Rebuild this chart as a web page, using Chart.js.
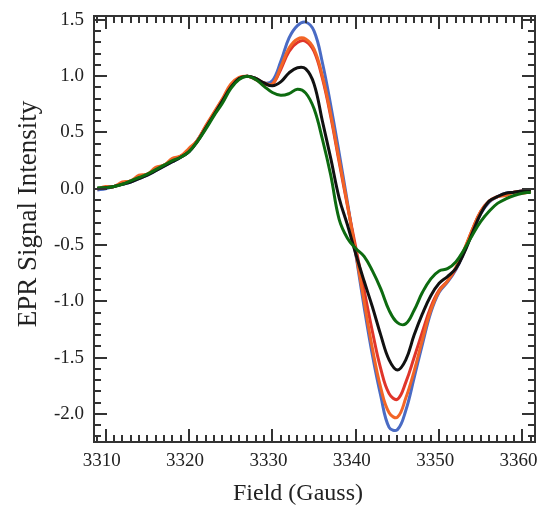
<!DOCTYPE html>
<html>
<head>
<meta charset="utf-8">
<script src="https://cdn.jsdelivr.net/npm/chart.js@4/dist/chart.umd.min.js"></script>
<style>
  html, body { margin: 0; padding: 0; background: #fff; }
  canvas { display: block; }
</style>
</head>
<body>
<canvas id="eprChart" width="539" height="507"></canvas>
<script>
// Field values (Gauss), one reading per gauss
const fieldG = [];
for (let g = 3309; g <= 3361; g++) fieldG.push(g);

// Tick labels
const xTicks = [3310, 3320, 3330, 3340, 3350, 3360];
const yTicks = [-2.0, -1.5, -1.0, -0.5, 0.0, 0.5, 1.0, 1.5];

// EPR spectra
const blueSeries = [
  -0.01, 0.00, 0.02, 0.04, 0.06, 0.09, 0.12, 0.16, 0.20, 0.24, 0.28, 0.33, 0.43, 0.55, 0.67, 0.79, 0.91, 0.98, 1.00,
  0.98, 0.94, 0.96, 1.13, 1.34, 1.45, 1.48, 1.40, 1.12, 0.74, 0.32, -0.12, -0.58, -1.05, -1.48, -1.84, -2.12, -2.14,
  -1.97, -1.68, -1.38, -1.10, -0.92, -0.83, -0.72, -0.56, -0.38, -0.22, -0.12, -0.07, -0.04, -0.03, -0.02, -0.02
];
const redSeries = [
  0.00, 0.01, 0.02, 0.05, 0.07, 0.10, 0.13, 0.17, 0.21, 0.25, 0.29, 0.34, 0.43, 0.55, 0.67, 0.79, 0.91, 0.98, 1.00,
  0.97, 0.93, 0.93, 1.06, 1.22, 1.30, 1.31, 1.22, 0.98, 0.64, 0.24, -0.15, -0.52, -0.90, -1.27, -1.60, -1.82, -1.87,
  -1.72, -1.50, -1.27, -1.05, -0.90, -0.82, -0.71, -0.55, -0.36, -0.20, -0.11, -0.07, -0.05, -0.03, -0.02, -0.02
];
const orangeSeries = [
  0.00, 0.02, 0.02, 0.06, 0.07, 0.12, 0.13, 0.19, 0.21, 0.27, 0.29, 0.36, 0.43, 0.56, 0.68, 0.80, 0.93, 0.99, 1.00,
  0.98, 0.94, 0.93, 1.08, 1.25, 1.33, 1.33, 1.24, 1.00, 0.66, 0.26, -0.14, -0.57, -1.00, -1.42, -1.77, -1.99, -2.03,
  -1.86, -1.62, -1.34, -1.08, -0.91, -0.82, -0.70, -0.54, -0.36, -0.20, -0.11, -0.07, -0.06, -0.03, -0.04, -0.02
];
const blackSeries = [
  0.00, 0.01, 0.02, 0.04, 0.06, 0.09, 0.12, 0.16, 0.20, 0.24, 0.28, 0.33, 0.42, 0.54, 0.66, 0.78, 0.90, 0.98, 1.00,
  0.98, 0.94, 0.915, 0.95, 1.03, 1.075, 1.065, 0.93, 0.60, 0.27, -0.08, -0.32, -0.58, -0.82, -1.05, -1.30, -1.52, -1.61,
  -1.52, -1.30, -1.11, -0.95, -0.84, -0.78, -0.71, -0.57, -0.39, -0.22, -0.11, -0.07, -0.04, -0.03, -0.02, -0.01
];
const greenSeries = [
  0.01, 0.01, 0.02, 0.04, 0.07, 0.10, 0.13, 0.17, 0.21, 0.25, 0.28, 0.33, 0.42, 0.53, 0.65, 0.76, 0.89, 0.97, 1.00,
  0.97, 0.91, 0.855, 0.83, 0.845, 0.885, 0.85, 0.71, 0.44, 0.12, -0.27, -0.44, -0.53, -0.60, -0.73, -0.89, -1.08, -1.19,
  -1.20, -1.08, -0.92, -0.80, -0.73, -0.71, -0.65, -0.54, -0.41, -0.29, -0.20, -0.13, -0.09, -0.06, -0.04, -0.03
];

const toPoints = (vals) => vals.map((v, i) => ({ x: fieldG[i], y: v }));

function makeLine(vals, color) {
  return {
    data: toPoints(vals),
    borderColor: color,
    borderWidth: 3,
    pointRadius: 0,
    tension: 0.4,
    fill: false
  };
}

const serif = '"Liberation Serif", "Times New Roman", serif';

// Frame with inward ticks on all four sides, plus both axis titles
// (titles sit a bit off the plot centre in the original, so draw them here)
const frameTicks = {
  id: 'frameTicks',
  afterDraw(chart) {
    const { ctx, chartArea: a, scales: { x, y } } = chart;
    ctx.save();
    ctx.strokeStyle = '#333';
    ctx.lineWidth = 2;
    ctx.strokeRect(a.left, a.top, a.right - a.left, a.bottom - a.top);
    ctx.beginPath();
    for (let g = 3309; g <= 3361; g++) {
      const px = Math.round(x.getPixelForValue(g));
      const len = g % 10 === 0 ? 13 : 7;
      ctx.moveTo(px, a.bottom); ctx.lineTo(px, a.bottom - len);
      ctx.moveTo(px, a.top); ctx.lineTo(px, a.top + len);
    }
    for (let k = -22; k <= 15; k++) {
      const py = Math.round(y.getPixelForValue(k / 10));
      const len = k % 5 === 0 ? 13 : 7;
      ctx.moveTo(a.left, py); ctx.lineTo(a.left + len, py);
      ctx.moveTo(a.right, py); ctx.lineTo(a.right - len, py);
    }
    ctx.stroke();

    ctx.fillStyle = '#222';
    ctx.textAlign = 'center';
    ctx.textBaseline = 'middle';
    ctx.font = '24px ' + serif;
    ctx.fillText('Field (Gauss)', 298, 494);
    ctx.font = '27px ' + serif;
    ctx.translate(29, 214);
    ctx.rotate(-Math.PI / 2);
    ctx.fillText('EPR Signal Intensity', 0, 0);
    ctx.restore();
  }
};

// keep the plot box fixed: no extra room for overhanging tick labels
function noPad(s) {
  s.paddingLeft = 0; s.paddingRight = 0; s.paddingTop = 0; s.paddingBottom = 0;
}

new Chart(document.getElementById('eprChart'), {
  type: 'line',
  data: {
    datasets: [
      makeLine(greenSeries, '#0d6b10'),
      makeLine(blackSeries, '#111111'),
      makeLine(orangeSeries, '#f26526'),
      makeLine(redSeries, '#e0352a'),
      makeLine(blueSeries, '#4a6bc4')
    ]
  },
  options: {
    responsive: false,
    animation: false,
    devicePixelRatio: 1,
    layout: { padding: { top: 16, right: 4, bottom: 0, left: 0 } },
    plugins: {
      legend: { display: false },
      tooltip: { enabled: false }
    },
    scales: {
      x: {
        type: 'linear',
        min: 3308.6,
        max: 3361.5,
        grid: { display: false, drawTicks: false },
        border: { display: false },
        afterBuildTicks: (s) => { s.ticks = xTicks.map((v) => ({ value: v })); },
        afterFit: (s) => { s.height = 65; noPad(s); },
        ticks: {
          color: '#222',
          padding: 8,
          labelOffset: -4,
          maxRotation: 0,
          font: { family: serif, size: 19 },
          callback: (v) => String(v)
        }
      },
      y: {
        min: -2.25,
        max: 1.535,
        grid: { display: false, drawTicks: false },
        border: { display: false },
        afterBuildTicks: (s) => { s.ticks = yTicks.map((v) => ({ value: v })); },
        afterFit: (s) => { s.width = 94; noPad(s); },
        ticks: {
          color: '#222',
          padding: 10,
          font: { family: serif, size: 19 },
          callback: (v) => v.toFixed(1)
        }
      }
    }
  },
  plugins: [frameTicks]
});
</script>
</body>
</html>
